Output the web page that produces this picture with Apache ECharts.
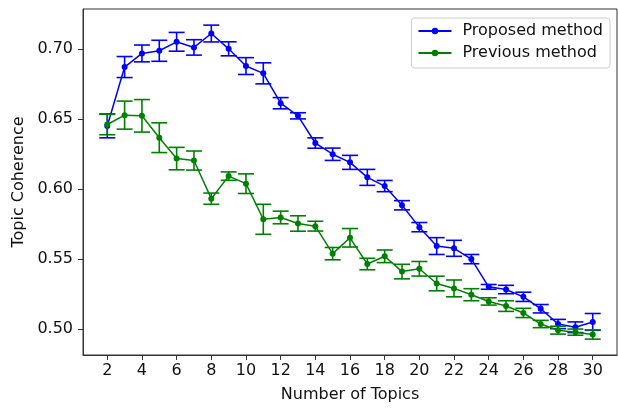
<!DOCTYPE html>
<html>
<head>
<meta charset="utf-8">
<script src="https://cdn.jsdelivr.net/npm/echarts@6/dist/echarts.min.js"></script>
<style>
html,body{margin:0;padding:0;background:#fff;}
#chart{width:618px;height:408px;}
</style>
</head>
<body>
<div id="chart"></div>
<script>
const topics = [2,3,4,5,6,7,8,9,10,11,12,13,14,15,16,17,18,19,20,21,22,23,24,25,26,27,28,29,30];
const proposedMean = [0.645,0.687,0.6967,0.6986,0.705,0.701,0.7109,0.700,0.6877,0.6825,0.6612,0.6522,0.6328,0.6248,0.619,0.6083,0.6021,0.5884,0.5728,0.5593,0.5577,0.550,0.5302,0.5283,0.5231,0.5146,0.5037,0.5014,0.5052];
const proposedErr  = [0.0085,0.0075,0.006,0.0075,0.0067,0.0055,0.006,0.005,0.006,0.0075,0.004,0.0022,0.0037,0.0044,0.005,0.0057,0.004,0.0033,0.0033,0.006,0.0057,0.0033,0.0017,0.003,0.0033,0.003,0.0033,0.0038,0.006];
const previousMean = [0.646,0.6527,0.6522,0.6366,0.6217,0.6203,0.5931,0.6092,0.6038,0.5784,0.5797,0.5754,0.5735,0.5539,0.5652,0.5465,0.552,0.5411,0.5431,0.5326,0.5291,0.5246,0.5198,0.5165,0.5116,0.5037,0.4993,0.4979,0.4962];
const previousErr  = [0.0073,0.010,0.0116,0.0106,0.008,0.0068,0.004,0.003,0.007,0.0107,0.0045,0.0055,0.0035,0.0044,0.0066,0.0041,0.0045,0.0052,0.0052,0.0052,0.006,0.0043,0.0026,0.0038,0.0033,0.0026,0.0028,0.0022,0.0033];
const xTicks = [2,4,6,8,10,12,14,16,18,20,22,24,26,28,30];
const yTicks = [0.50,0.55,0.60,0.65,0.70];

const seriesNames = ['Proposed method','Previous method'];
const colors = ['#0000ff','#008000'];

function lineData(means){ return topics.map((t,i)=>[t,means[i]]); }
function errData(means, errs){ return topics.map((t,i)=>[t, means[i]-errs[i], means[i]+errs[i]]); }

function errSeries(means, errs, color, z){
  return {
    type:'custom',
    z:z,
    silent:true,
    data: errData(means, errs),
    encode:{x:0,y:[1,2]},
    renderItem:function(params, api){
      const x = api.value(0);
      const lo = api.coord([x, api.value(1)]);
      const hi = api.coord([x, api.value(2)]);
      const w = 8;
      const style = {stroke:color, lineWidth:1.6};
      return {type:'group', children:[
        {type:'line', shape:{x1:lo[0],y1:lo[1],x2:hi[0],y2:hi[1]}, style:style},
        {type:'line', shape:{x1:hi[0]-w,y1:hi[1],x2:hi[0]+w,y2:hi[1]}, style:style},
        {type:'line', shape:{x1:lo[0]-w,y1:lo[1],x2:lo[0]+w,y2:lo[1]}, style:style}
      ]};
    }
  };
}

const chart = echarts.init(document.getElementById('chart'), null, {renderer:'canvas'});
const font = 'DejaVu Sans';
const fs = 16;
chart.setOption({
  animation:false,
  backgroundColor:'#fff',
  textStyle:{fontFamily:font},
  grid:{left:83, right:1, top:9, bottom:51, show:true, borderColor:'#333', borderWidth:1, containLabel:false},
  legend:{
    data:seriesNames,
    orient:'vertical',
    right:8, top:18,
    itemWidth:33, itemHeight:8, itemGap:6,
    padding:[5,7,7,6],
    borderColor:'#ccc', borderWidth:1, borderRadius:3,
    backgroundColor:'rgba(255,255,255,0.8)',
    textStyle:{fontFamily:font, fontSize:fs, color:'#111', padding:[0,0,0,6]}
  },
  xAxis:{
    type:'value', min:0.6, max:31.4,
    name:'Number of Topics', nameLocation:'middle', nameGap:32,
    nameTextStyle:{fontFamily:font, fontSize:fs, color:'#111'},
    axisLine:{show:true, lineStyle:{color:'#333', width:1}},
    axisTick:{show:true, inside:false, length:5, customValues:xTicks, lineStyle:{color:'#333'}},
    axisLabel:{customValues:xTicks, margin:8, fontFamily:font, fontSize:fs, color:'#111'},
    splitLine:{show:false}
  },
  yAxis:{
    type:'value', min:0.4816, max:0.7284,
    name:'Topic Coherence', nameLocation:'middle', nameGap:50,
    nameTextStyle:{fontFamily:font, fontSize:fs, color:'#111'},
    axisLine:{show:true, lineStyle:{color:'#333', width:1}},
    axisTick:{show:true, inside:false, length:5, customValues:yTicks, lineStyle:{color:'#333'}},
    axisLabel:{customValues:yTicks, margin:10, fontFamily:font, fontSize:fs, color:'#111',
      formatter:function(v){return v.toFixed(2);}},
    splitLine:{show:false}
  },
  series:[
    {name:seriesNames[0], type:'line', z:2, data:lineData(proposedMean), color:colors[0],
      symbol:'circle', symbolSize:6, showAllSymbol:true,
      lineStyle:{color:colors[0], width:1.5}, itemStyle:{color:colors[0]}},
    errSeries(proposedMean, proposedErr, colors[0], 3),
    {name:seriesNames[1], type:'line', z:4, data:lineData(previousMean), color:colors[1],
      symbol:'circle', symbolSize:6, showAllSymbol:true,
      lineStyle:{color:colors[1], width:1.5}, itemStyle:{color:colors[1]}},
    errSeries(previousMean, previousErr, colors[1], 5)
  ]
});
</script>
</body>
</html>
